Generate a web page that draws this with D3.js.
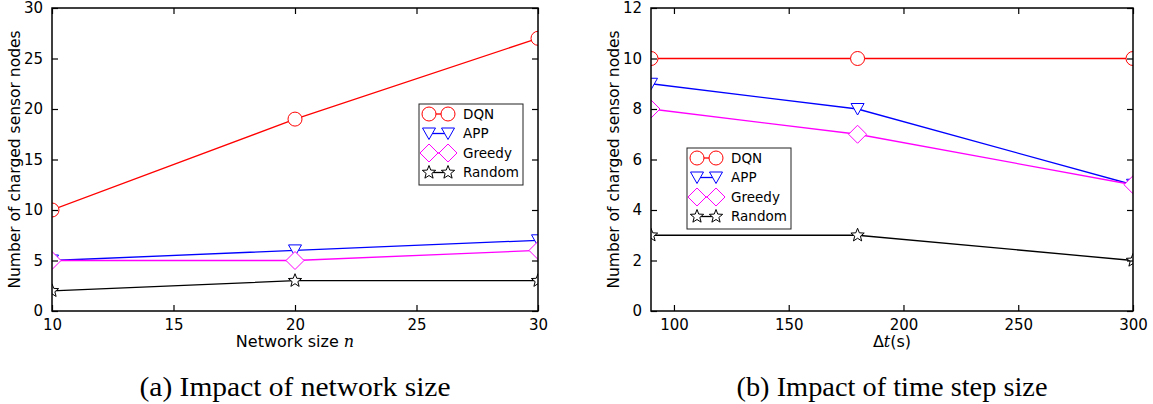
<!DOCTYPE html>
<html>
<head>
<meta charset="utf-8">
<script src="https://cdn.jsdelivr.net/npm/d3@7"></script>
<style>
  body { margin: 0; background: #fff; }
  svg { display: block; }
  text { font-family: "DejaVu Sans", sans-serif; }
</style>
</head>
<body>
<svg id="chart" width="1153" height="404"></svg>
<script>
// series names, shared by both panels
var seriesNames = ['DQN', 'APP', 'Greedy', 'Random'];
var seriesColors = ['#ff0000', '#0000ff', '#ff00ff', '#000000'];
var seriesMarkers = ['circle', 'triangle', 'diamond', 'star'];

// panel (a): network size
var sizeX = [10, 20, 30];
var sizeDQN = [10, 19, 27];
var sizeAPP = [5, 6, 7];
var sizeGreedy = [5, 5, 6];
var sizeRandom = [2, 3, 3];
var sizeXTicks = [10, 15, 20, 25, 30];
var sizeYTicks = [0, 5, 10, 15, 20, 25, 30];

// panel (b): time step
var stepX = [90, 180, 300];
var stepDQN = [10, 10, 10];
var stepAPP = [9, 8, 5];
var stepGreedy = [8, 7, 5];
var stepRandom = [3, 3, 2];
var stepXTicks = [100, 150, 200, 250, 300];
var stepYTicks = [0, 2, 4, 6, 8, 10, 12];

var svg = d3.select('#chart');

var markerPath = function (kind) {
  if (kind === 'circle') return d3.symbol().type(d3.symbolCircle).size(Math.PI * 49)();
  if (kind === 'triangle') return 'M-6.5,-5.5L6.5,-5.5L0,6Z';
  if (kind === 'diamond') return 'M0,-9L9,0L0,9L-9,0Z';
  // five point star
  var pts = [];
  for (var i = 0; i < 10; i++) {
    var r = i % 2 === 0 ? 7 : 3;
    var a = -Math.PI / 2 + i * Math.PI / 5;
    pts.push([r * Math.cos(a), r * Math.sin(a)]);
  }
  return 'M' + pts.join('L') + 'Z';
};

var drawPanel = function (opt) {
  var g = svg.append('g');
  var x = d3.scaleLinear().domain(opt.xDomain).range([opt.left, opt.right]);
  var y = d3.scaleLinear().domain(opt.yDomain).range([opt.bottom, opt.top]);

  var clipId = 'clip-' + opt.id;
  svg.append('clipPath').attr('id', clipId)
    .append('rect')
    .attr('x', opt.left).attr('y', opt.top)
    .attr('width', opt.right - opt.left).attr('height', opt.bottom - opt.top);

  var plot = g.append('g').attr('clip-path', 'url(#' + clipId + ')');
  var line = d3.line().x(function (d) { return x(d[0]); }).y(function (d) { return y(d[1]); });

  opt.series.forEach(function (vals, i) {
    var pts = opt.xs.map(function (xv, j) { return [xv, vals[j]]; });
    plot.append('path')
      .attr('d', line(pts))
      .style('fill', 'none')
      .style('stroke', seriesColors[i])
      .style('stroke-width', 1.3);
    plot.selectAll('.m' + i).data(pts).enter().append('path')
      .attr('transform', function (d) { return 'translate(' + x(d[0]) + ',' + y(d[1]) + ')'; })
      .attr('d', markerPath(seriesMarkers[i]))
      .style('fill', '#fff')
      .style('stroke', seriesColors[i])
      .style('stroke-width', 1);
  });

  // axes with inward ticks on all four sides
  var tick = 6;
  var xb = d3.axisBottom(x).tickValues(opt.xTicks).tickSize(-tick).tickPadding(8);
  var xt = d3.axisTop(x).tickValues(opt.xTicks).tickSize(-tick).tickFormat('');
  var yl = d3.axisLeft(y).tickValues(opt.yTicks).tickSize(-tick).tickPadding(9);
  var yr = d3.axisRight(y).tickValues(opt.yTicks).tickSize(-tick).tickFormat('');

  var axes = [
    g.append('g').attr('transform', 'translate(0,' + opt.bottom + ')').call(xb),
    g.append('g').attr('transform', 'translate(0,' + opt.top + ')').call(xt),
    g.append('g').attr('transform', 'translate(' + opt.left + ',0)').call(yl),
    g.append('g').attr('transform', 'translate(' + opt.right + ',0)').call(yr)
  ];
  axes.forEach(function (a) {
    a.select('.domain').remove();
    a.selectAll('line').style('stroke', '#000').style('stroke-width', 1.2);
    a.selectAll('text').style('font-family', '"DejaVu Sans", sans-serif')
      .style('font-size', '15px').style('fill', '#000');
  });

  g.append('rect')
    .attr('x', opt.left).attr('y', opt.top)
    .attr('width', opt.right - opt.left).attr('height', opt.bottom - opt.top)
    .style('fill', 'none').style('stroke', '#000').style('stroke-width', 1.5);

  // axis labels
  var cx = (opt.left + opt.right) / 2;
  var xl = g.append('text')
    .attr('x', cx).attr('y', opt.bottom + 36)
    .attr('text-anchor', 'middle')
    .style('font-size', '16px');
  opt.xLabel.forEach(function (part) {
    var t = xl.append('tspan').text(part.text);
    if (part.italic) t.style('font-family', '"DejaVu Serif", serif').style('font-style', 'italic');
  });

  g.append('text')
    .attr('transform', 'translate(' + (opt.left - 32) + ',' + ((opt.top + opt.bottom) / 2) + ') rotate(-90)')
    .attr('text-anchor', 'middle')
    .style('font-size', '15.5px')
    .text('Number of charged sensor nodes');

  // legend
  var lg = g.append('g').attr('transform', 'translate(' + opt.legend[0] + ',' + opt.legend[1] + ')');
  lg.append('rect')
    .attr('width', 104).attr('height', 81)
    .style('fill', '#fff').style('stroke', '#222').style('stroke-width', 1);
  seriesNames.forEach(function (name, i) {
    var yy = 10 + i * 19.5;
    lg.append('line')
      .attr('x1', 10).attr('x2', 29).attr('y1', yy).attr('y2', yy)
      .style('stroke', seriesColors[i]).style('stroke-width', 1.3);
    [10, 29].forEach(function (mx) {
      lg.append('path')
        .attr('transform', 'translate(' + mx + ',' + yy + ')')
        .attr('d', markerPath(seriesMarkers[i]))
        .style('fill', '#fff')
        .style('stroke', seriesColors[i])
        .style('stroke-width', 1);
    });
    lg.append('text')
      .attr('x', 44).attr('y', yy).attr('dy', '0.35em')
      .style('font-size', '13.5px')
      .text(name);
  });

  // caption
  svg.append('text')
    .attr('x', cx).attr('y', 396)
    .attr('text-anchor', 'middle')
    .attr('textLength', 311)
    .attr('lengthAdjust', 'spacingAndGlyphs')
    .style('font-family', '"Liberation Serif", "Times New Roman", serif')
    .style('font-size', '27px')
    .text(opt.caption);
};

drawPanel({
  id: 'a',
  left: 52, right: 538, top: 8, bottom: 311,
  xDomain: [10, 30], yDomain: [0, 30],
  xs: sizeX,
  series: [sizeDQN, sizeAPP, sizeGreedy, sizeRandom],
  xTicks: sizeXTicks, yTicks: sizeYTicks,
  xLabel: [{ text: 'Network size ' }, { text: 'n', italic: true }],
  legend: [419, 104],
  caption: '(a) Impact of network size'
});

drawPanel({
  id: 'b',
  left: 651, right: 1133, top: 8, bottom: 311,
  xDomain: [90, 300], yDomain: [0, 12],
  xs: stepX,
  series: [stepDQN, stepAPP, stepGreedy, stepRandom],
  xTicks: stepXTicks, yTicks: stepYTicks,
  xLabel: [{ text: 'Δ' }, { text: 't', italic: true }, { text: '(s)' }],
  legend: [687, 148],
  caption: '(b) Impact of time step size'
});
</script>
</body>
</html>
